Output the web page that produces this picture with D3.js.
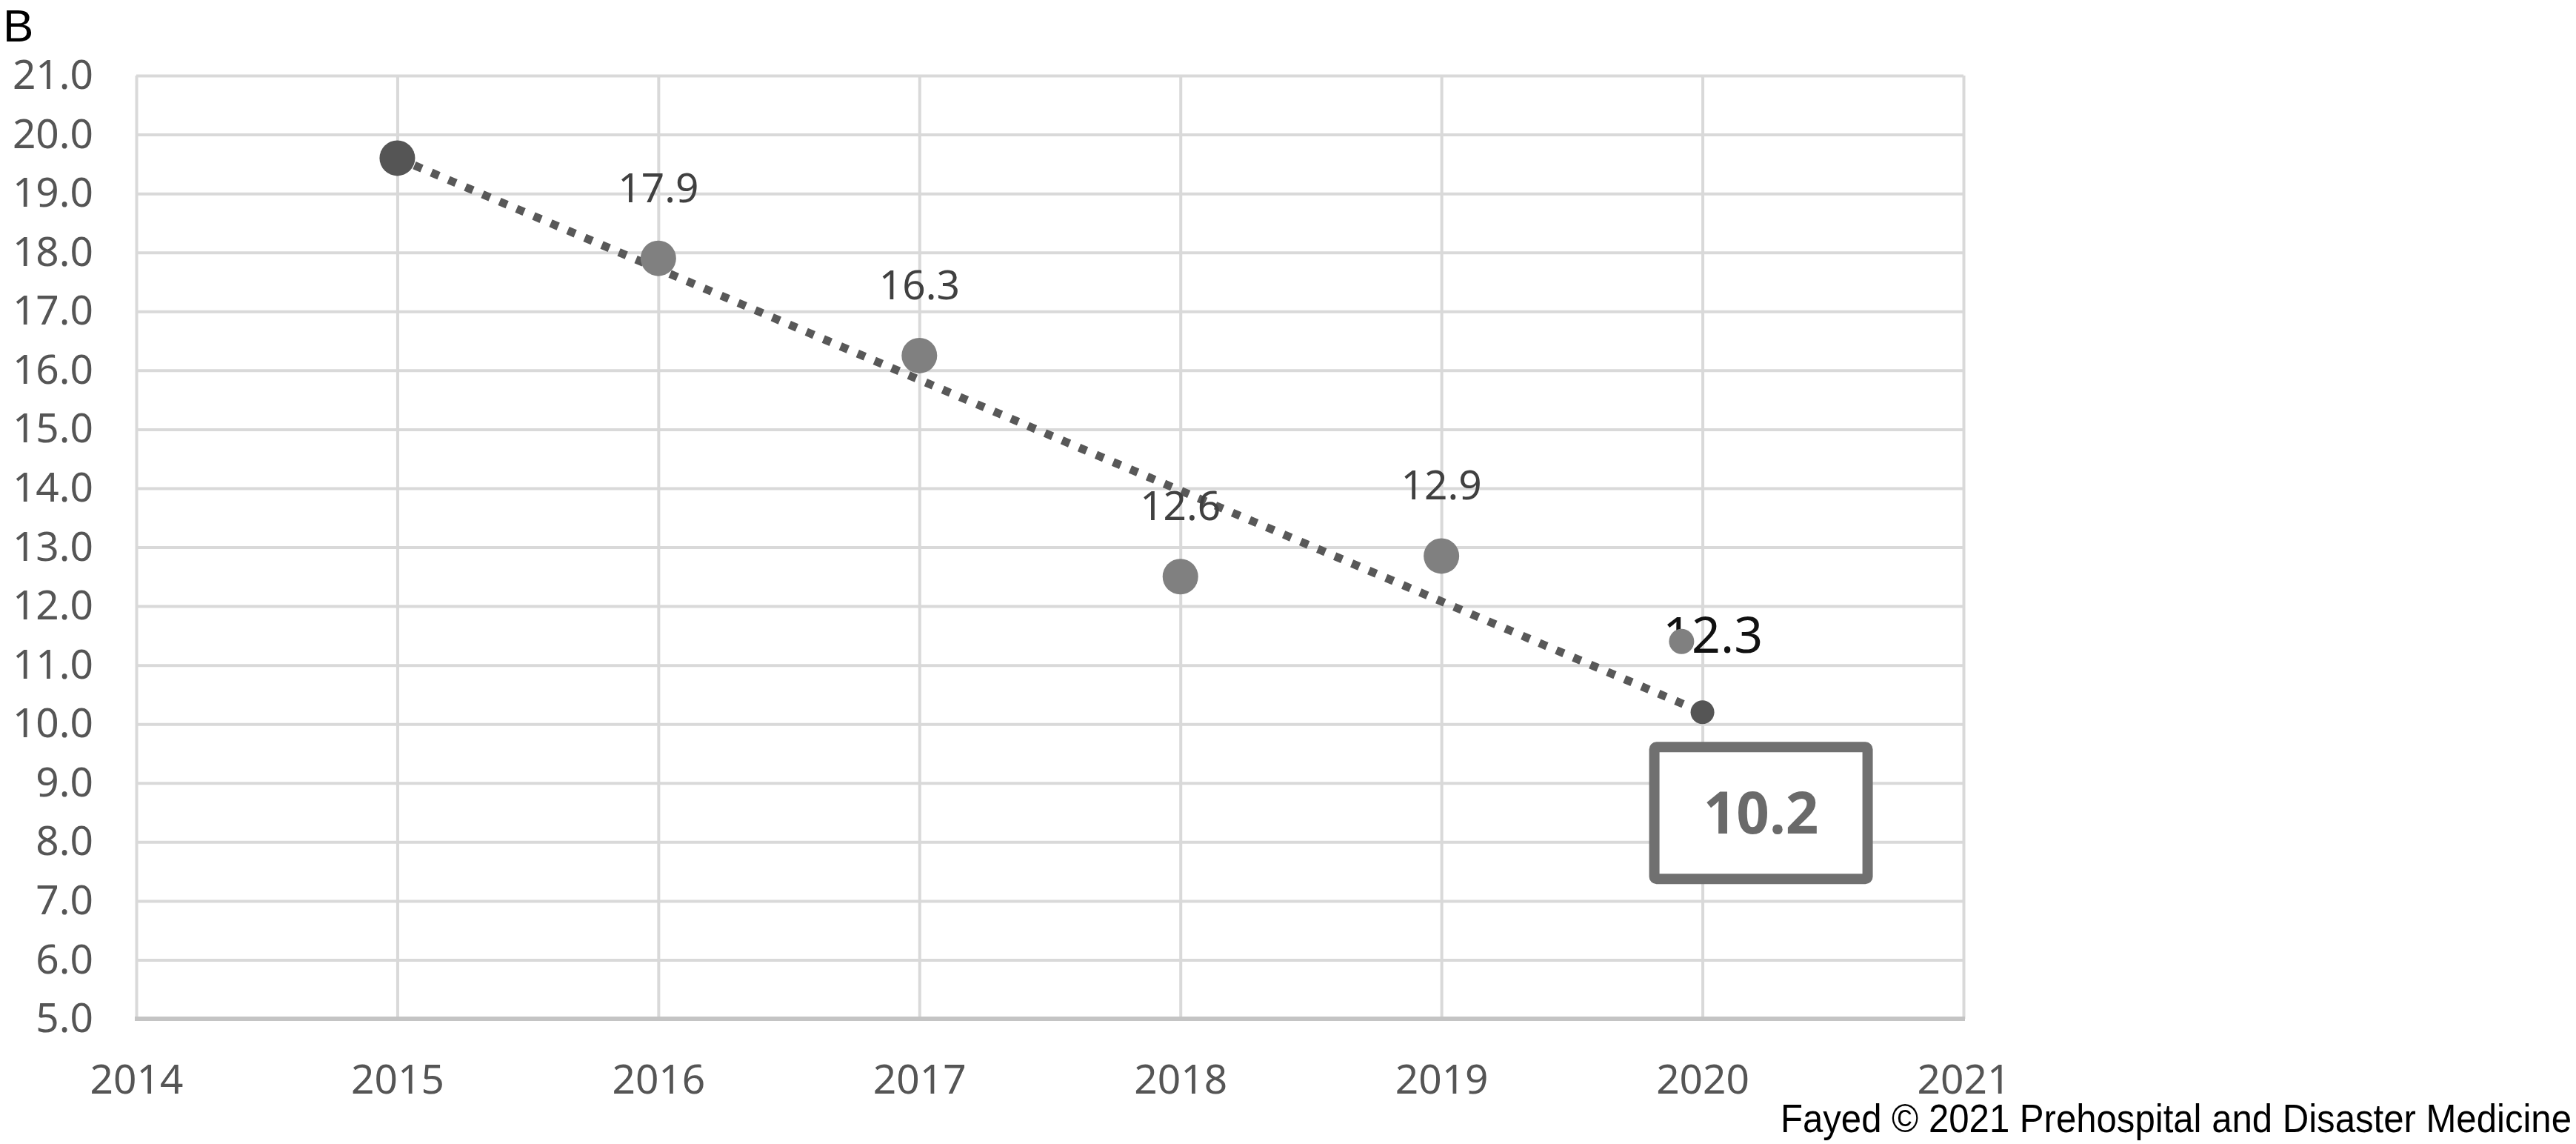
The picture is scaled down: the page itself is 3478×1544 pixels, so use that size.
<!DOCTYPE html>
<html>
<head>
<meta charset="utf-8">
<script src="https://cdn.jsdelivr.net/npm/d3@7"></script>
<style>
  html, body { margin: 0; padding: 0; background: #fff; }
  svg { display: block; }
</style>
</head>
<body>
<div id="chart"></div>
<script>
// observed yearly values (grey points) and their printed labels
const years = [2016, 2017, 2018, 2019];
const rates = [17.9, 16.25, 12.5, 12.85];
const rateLabels = ['17.9', '16.3', '12.6', '12.9'];

// the 2020 point sits a little left of the gridline, labelled 12.3
const lastYear = [2019.92];
const lastRate = [11.4];
const lastLabel = ['12.3'];

// dotted trend line, start and end
const trendYears = [2015, 2020];
const trendRates = [19.6, 10.2];
const trendLabel = '10.2';

const xTicks = [2014, 2015, 2016, 2017, 2018, 2019, 2020, 2021];
const yTicks = d3.range(5, 22, 1);

const W = 3478, H = 1544;
const plot = { left: 184, right: 2651, top: 102, bottom: 1375 };

const svg = d3.select('#chart').append('svg')
  .attr('width', W)
  .attr('height', H);

const x = d3.scaleLinear().domain([2014, 2021]).range([plot.left, plot.right]);
const y = d3.scaleLinear().domain([5, 21]).range([plot.bottom, plot.top]);

const tickFont = '"Noto Sans", "Open Sans", sans-serif';

// horizontal gridlines + y labels
const yAxis = svg.append('g')
  .attr('transform', `translate(${plot.left},0)`)
  .call(d3.axisLeft(y).tickValues(yTicks).tickFormat(d3.format('.1f'))
    .tickSize(-(plot.right - plot.left)).tickPadding(58));
yAxis.select('.domain').remove();
yAxis.selectAll('line').attr('stroke', '#d9d9d9').attr('stroke-width', 4);
yAxis.selectAll('text')
  .attr('font-family', tickFont)
  .attr('font-size', 55)
  .attr('fill', '#555');

// vertical gridlines + x labels
const xAxis = svg.append('g')
  .attr('transform', `translate(0,${plot.bottom})`)
  .call(d3.axisBottom(x).tickValues(xTicks).tickFormat(d3.format('d'))
    .tickSize(-(plot.bottom - plot.top)).tickPadding(62));
xAxis.select('.domain').remove();
xAxis.selectAll('line').attr('stroke', '#d9d9d9').attr('stroke-width', 4);
xAxis.selectAll('text')
  .attr('font-family', tickFont)
  .attr('font-size', 55)
  .attr('fill', '#555');

// bottom axis line, a bit darker
svg.append('line')
  .attr('x1', plot.left - 2).attr('x2', plot.right + 2)
  .attr('y1', y(5)).attr('y2', y(5))
  .attr('stroke', '#c4c4c4')
  .attr('stroke-width', 6);

// trend line
const trend = trendYears.map((d, i) => ({ year: d, value: trendRates[i] }));
svg.append('path')
  .datum(trend)
  .attr('fill', 'none')
  .attr('stroke', '#585858')
  .attr('stroke-width', 11)
  .attr('stroke-dasharray', '11,14')
  .attr('d', d3.line().x(d => x(d.year)).y(d => y(d.value)));

// trend endpoints
svg.append('g')
  .selectAll('circle')
  .data(trend)
  .enter().append('circle')
  .attr('cx', d => x(d.year))
  .attr('cy', d => y(d.value))
  .attr('r', (d, i) => i === 0 ? 24 : 16)
  .attr('fill', '#555');

// grey data points
const points = years.map((d, i) => ({ year: d, value: rates[i], label: rateLabels[i] }));
svg.append('g')
  .selectAll('circle')
  .data(points)
  .enter().append('circle')
  .attr('cx', d => x(d.year))
  .attr('cy', d => y(d.value))
  .attr('r', 24)
  .attr('fill', '#808080');

svg.append('g')
  .selectAll('text')
  .data(points)
  .enter().append('text')
  .attr('x', d => x(d.year))
  .attr('y', d => y(d.value) - 76)
  .attr('text-anchor', 'middle')
  .attr('font-family', tickFont)
  .attr('font-size', 55)
  .attr('fill', '#404040')
  .text(d => d.label);

// 2020 label goes under the dot, then the dot on top
const last = lastYear.map((d, i) => ({ year: d, value: lastRate[i], label: lastLabel[i] }));
svg.append('g')
  .selectAll('text')
  .data(last)
  .enter().append('text')
  .attr('x', d => x(2020) + 14)
  .attr('y', d => y(d.value) + 15)
  .attr('text-anchor', 'middle')
  .attr('font-family', tickFont)
  .attr('font-size', 68)
  .attr('fill', '#111')
  .text(d => d.label);

svg.append('g')
  .selectAll('circle')
  .data(last)
  .enter().append('circle')
  .attr('cx', d => x(d.year))
  .attr('cy', d => y(d.value))
  .attr('r', 17)
  .attr('fill', '#808080');

// boxed 10.2 callout
const end = trend[trend.length - 1];
const bx = x(end.year) - 72, by = y(end.value) + 40;
const bw = 302, bh = 192;
svg.append('rect')
  .attr('x', bx + 7).attr('y', by + 7)
  .attr('width', bw - 14).attr('height', bh - 14)
  .attr('rx', 3)
  .attr('fill', '#fff')
  .attr('stroke', '#707070')
  .attr('stroke-width', 14);
svg.append('text')
  .attr('x', bx + bw / 2)
  .attr('y', by + bh / 2 + 28)
  .attr('text-anchor', 'middle')
  .attr('font-family', tickFont)
  .attr('font-weight', 'bold')
  .attr('font-size', 78)
  .attr('fill', '#6a6a6a')
  .text(trendLabel);

// panel letter
svg.append('text')
  .attr('x', 4)
  .attr('y', 56)
  .attr('font-family', '"Liberation Sans", Arial, sans-serif')
  .attr('font-size', 62)
  .attr('fill', '#000')
  .text('B');

// credit line
svg.append('text')
  .attr('x', W - 6)
  .attr('y', 1528)
  .attr('text-anchor', 'end')
  .attr('font-family', '"Liberation Sans Narrow", "Liberation Sans", Arial, sans-serif')
  .attr('font-size', 53)
  .attr('textLength', 1068)
  .attr('lengthAdjust', 'spacingAndGlyphs')
  .attr('fill', '#000')
  .text('Fayed © 2021 Prehospital and Disaster Medicine');
</script>
</body>
</html>
